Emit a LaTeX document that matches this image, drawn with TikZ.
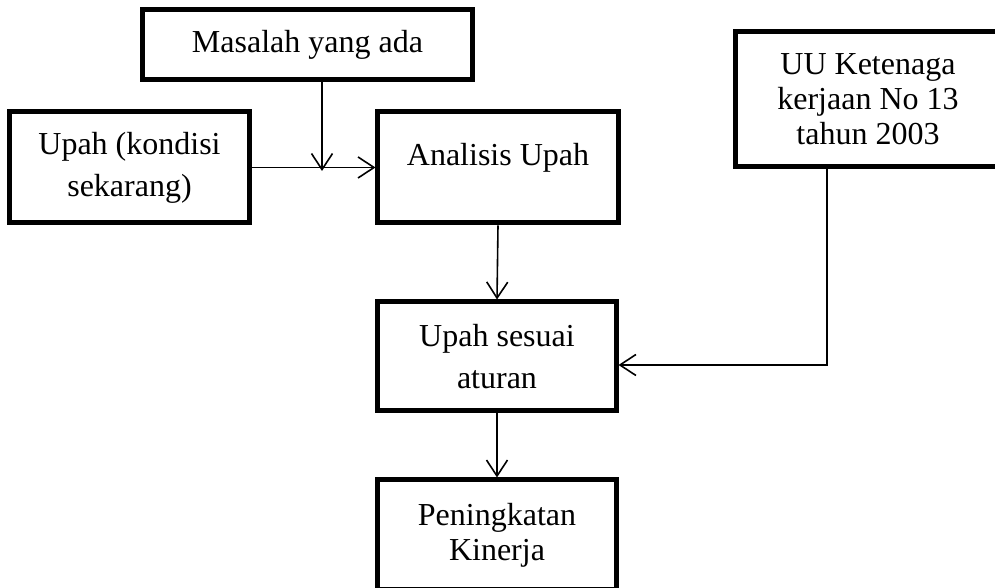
\documentclass[tikz,border=0pt]{standalone}
\usepackage{fontspec}
\setmainfont{Liberation Serif}
\usetikzlibrary{arrows.meta, positioning, calc}
\tikzset{
  kotak/.style={rectangle, draw=black, line width=2.5bp, align=center,
                inner sep=0pt, font=\fontsize{16bp}{21bp}\selectfont},
  rapat/.style={font=\fontsize{16bp}{17.5bp}\selectfont},
  panah/.style={line width=0.8bp, -{Straight Barb[length=8bp, width=10.5bp]}}
}
\begin{document}
\begin{tikzpicture}[x=0.5bp, y=0.5bp]
\useasboundingbox (0,0) rectangle (995,588);
\clip (0,0) rectangle (995,588);

\node[kotak, minimum width=164.5bp, minimum height=35bp] (masalah) at (307.5,543) {Masalah yang ada};
\node[kotak, minimum width=119.5bp, minimum height=55.5bp] (upah) at (129.5,420.5) {Upah (kondisi\\sekarang)};
\node[kotak, minimum width=120bp, minimum height=55.5bp, text depth=13.5bp] (analisis) at (498,420.5) {Analisis Upah};
\node[kotak, minimum width=119bp, minimum height=54.5bp] (sesuai) at (497,231.5) {Upah sesuai\\aturan};
\node[kotak, rapat, minimum width=119.5bp, minimum height=55bp] (kinerja) at (497,53) {Peningkatan\\Kinerja};
\node[kotak, rapat, minimum width=132.5bp, minimum height=67.5bp] (uu) at (868,488.5) {UU Ketenaga\\kerjaan No 13\\tahun 2003};

% titik bantu
\coordinate (temu) at (322,417);
\coordinate (belok) at (827,223);

\draw[panah] (upah.east) -- (analisis.west);
\draw[panah] (masalah.south -| temu) -- (temu);
\draw[panah] (analisis.south) -- (sesuai.north);
\draw[panah] (sesuai.south) -- (kinerja.north);
\draw[panah] (uu.south -| belok) -- (belok) -- (sesuai.east |- belok);
\end{tikzpicture}
\end{document}
